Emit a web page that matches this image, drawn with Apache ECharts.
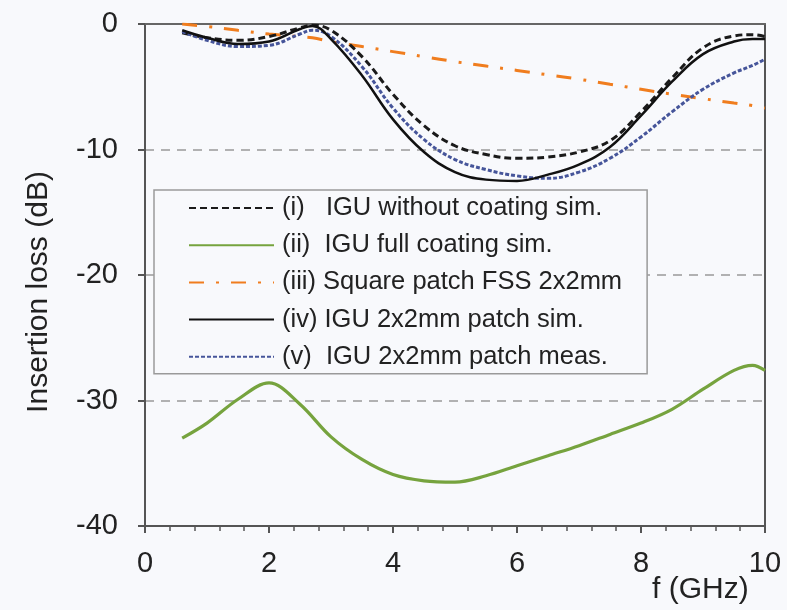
<!DOCTYPE html>
<html>
<head>
<meta charset="utf-8">
<script src="https://cdn.jsdelivr.net/npm/echarts@6/dist/echarts.min.js"></script>
<style>
html,body{margin:0;padding:0;background:#f8f9fc;}
#c{width:787px;height:610px;}
</style>
</head>
<body>
<div id="c"></div>
<script>
// Frequency grid (GHz) for curves (i), (iii), (iv), (v)
var freq = [0.6, 1.0, 1.5, 2.0, 2.5, 2.7, 3.0, 3.5, 4.0, 4.5, 5.0, 5.5, 6.0, 6.5, 7.0, 7.5, 8.0, 8.5, 9.0, 9.5, 9.8, 10.0];
// (i) IGU without coating sim.
var lossNoCoating = [-0.7, -1.1, -1.3, -1.0, -0.3, -0.1, -0.5, -2.6, -5.6, -8.1, -9.7, -10.4, -10.7, -10.6, -10.2, -9.3, -7.0, -4.3, -1.9, -0.95, -0.85, -1.0];
// (iii) Square patch FSS 2x2mm
var lossFSS = [0.0, -0.2, -0.5, -0.8, -1.0, -1.1, -1.4, -1.8, -2.2, -2.6, -3.0, -3.35, -3.7, -4.05, -4.4, -4.8, -5.2, -5.6, -5.95, -6.3, -6.5, -6.7];
// (iv) IGU 2x2mm patch sim.
var lossPatchSim = [-0.5, -1.1, -1.6, -1.4, -0.4, -0.15, -1.2, -4.1, -7.6, -10.2, -11.8, -12.4, -12.5, -12.0, -11.2, -9.8, -7.3, -4.6, -2.4, -1.4, -1.2, -1.2];
// (v) IGU 2x2mm patch meas.
var lossPatchMeas = [-0.6, -1.3, -1.8, -1.7, -0.8, -0.5, -1.0, -3.4, -6.7, -9.2, -10.8, -11.6, -12.1, -12.3, -11.8, -10.7, -9.0, -7.0, -5.2, -3.9, -3.3, -2.8];
// Frequency grid (GHz) for curve (ii)
var freqFull = [0.6, 1.0, 1.5, 2.0, 2.5, 3.0, 3.5, 4.0, 4.5, 5.0, 5.5, 6.0, 6.5, 7.0, 7.5, 8.0, 8.5, 9.0, 9.5, 9.8, 10.0];
// (ii) IGU full coating sim.
var lossFullCoating = [-33.0, -31.8, -29.9, -28.6, -30.3, -32.9, -34.7, -35.9, -36.4, -36.5, -36.0, -35.2, -34.4, -33.6, -32.7, -31.8, -30.7, -29.1, -27.6, -27.2, -27.6];

var names = ['(i)   IGU without coating sim.', '(ii)  IGU full coating sim.', '(iii) Square patch FSS 2x2mm', '(iv) IGU 2x2mm patch sim.', '(v)  IGU 2x2mm patch meas.'];
var xTicks = [0, 2, 4, 6, 8, 10];
var yTicks = [0, -10, -20, -30, -40];

function pairs(xs, ys){ return xs.map(function(f,i){ return [f, ys[i]]; }); }

var FONT = 'Liberation Sans, Arial, sans-serif';
var chart = echarts.init(document.getElementById('c'));
chart.setOption({
  backgroundColor: '#f8f9fc',
  animation: false,
  grid: {left: 145, right: 22, top: 24, bottom: 84},
  legend: {
    orient: 'vertical',
    left: 154, top: 190,
    padding: [3, 25, 2, 34],
    itemWidth: 85, itemHeight: 14,
    itemGap: 7.2,
    borderColor: '#9a9a9a', borderWidth: 1.5,
    backgroundColor: '#f8f9fc',
    itemStyle: {opacity: 0, borderWidth: 0},
    textStyle: {fontFamily: FONT, fontSize: 25.5, color: '#222', lineHeight: 30, padding: [0, 0, 0, 3]},
    data: names
  },
  xAxis: [{
    type: 'value', min: 0, max: 10, interval: 2,
    axisLine: {onZero: false, lineStyle: {color: '#555', width: 2}},
    axisTick: {show: true, length: 7, lineStyle: {color: '#555', width: 2}},
    minorTick: {show: true, splitNumber: 5, length: 5, lineStyle: {color: '#555', width: 1.5}},
    splitLine: {show: false},
    axisLabel: {fontFamily: FONT, fontSize: 29, color: '#222', margin: 23,
      formatter: function(v){ return xTicks.indexOf(v) >= 0 ? String(v) : ''; }}
  }, {
    type: 'value', min: 0, max: 10, position: 'top',
    axisLine: {show: true, onZero: false, lineStyle: {color: '#666', width: 2}},
    axisTick: {show: false}, axisLabel: {show: false}, splitLine: {show: false}
  }],
  yAxis: [{
    type: 'value', min: -40, max: 0, interval: 10,
    axisLine: {show: true, onZero: false, lineStyle: {color: '#555', width: 2}},
    axisTick: {show: true, length: 7, lineStyle: {color: '#555', width: 2}},
    splitLine: {show: true, lineStyle: {color: '#999', width: 1.5, type: [9, 7]}},
    axisLabel: {fontFamily: FONT, fontSize: 29, color: '#222', margin: 27,
      formatter: function(v){ return yTicks.indexOf(v) >= 0 ? String(v) : ''; }}
  }, {
    type: 'value', min: -40, max: 0, position: 'right',
    axisLine: {show: true, onZero: false, lineStyle: {color: '#555', width: 2}},
    axisTick: {show: false}, axisLabel: {show: false}, splitLine: {show: false}
  }],
  graphic: [{
    type: 'text', left: 652, top: 575,
    style: {text: 'f (GHz)', fontFamily: FONT, fontSize: 30, fill: '#222'}
  }, {
    type: 'text', x: 24, y: 292, rotation: Math.PI / 2,
    style: {text: 'Insertion loss (dB)', fontFamily: FONT, fontSize: 30, fill: '#222',
      align: 'center', verticalAlign: 'top'}
  }],
  series: [{
    name: names[0], type: 'line', symbol: 'none', smooth: 0.4, z: 3,
    data: pairs(freq, lossNoCoating),
    lineStyle: {color: '#1a1a1a', width: 3, type: [7, 4]}, itemStyle: {color: '#1a1a1a'}
  }, {
    name: names[1], type: 'line', symbol: 'none', smooth: 0.35, z: 3,
    data: pairs(freqFull, lossFullCoating),
    lineStyle: {color: '#76a33e', width: 3.2}, itemStyle: {color: '#76a33e'}
  }, {
    name: names[2], type: 'line', symbol: 'none', smooth: 0.4, z: 2,
    data: pairs(freq, lossFSS),
    lineStyle: {color: '#f07d1e', width: 3, type: [15, 12, 3, 12]}, itemStyle: {color: '#f07d1e'}
  }, {
    name: names[3], type: 'line', symbol: 'none', smooth: 0.4, z: 4,
    data: pairs(freq, lossPatchSim),
    lineStyle: {color: '#111', width: 2.5}, itemStyle: {color: '#111'}
  }, {
    name: names[4], type: 'line', symbol: 'none', smooth: 0.4, z: 3,
    data: pairs(freq, lossPatchMeas),
    lineStyle: {color: '#46559a', width: 3, type: [4, 2]}, itemStyle: {color: '#46559a'}
  }]
});
</script>
</body>
</html>
